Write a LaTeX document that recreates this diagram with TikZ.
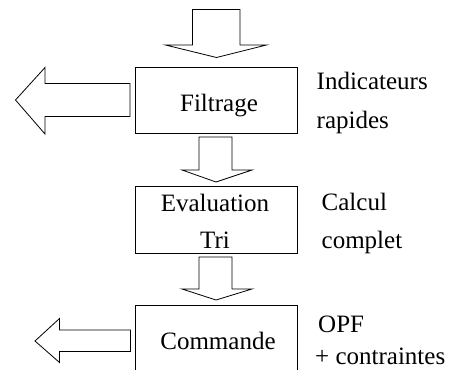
\documentclass[tikz,border=0pt]{standalone}
\usepackage{fontspec}
\setmainfont{Liberation Serif}
\begin{document}
\begin{tikzpicture}[x=1pt,y=-1pt,
  boxstyle/.style={draw=black,line width=0.9pt,fill=white,inner sep=0pt},
  blockarrow/.style={draw=black,line width=0.8pt,fill=white,line join=miter},
  lbl/.style={inner sep=0pt,font=\fontsize{25}{30}\selectfont},
]
\useasboundingbox (0,0) rectangle (451,370);
\clip (0,0) rectangle (451,370);
\fill[white] (0,0) rectangle (451,370);

% boxes
\node[boxstyle,minimum width=162pt,minimum height=65.5pt] (filtrage) at (216,100.25) {};
\node[boxstyle,minimum width=162pt,minimum height=67pt] (evaluation) at (216,219.5) {};
\node[boxstyle,minimum width=162pt,minimum height=74pt] (commande) at (216,342) {};

% texts in boxes
\node[lbl,anchor=base] (tfilt) at (219,111) {Filtrage};
\node[lbl,anchor=base] (teval) at (215,211) {Evaluation};
\node[lbl,anchor=base] (ttri) at (215,248) {Tri};
\node[lbl,anchor=base] (tcmd) at (218,349) {Commande};

% side texts
\node[lbl,anchor=base west] (ind) at (316.5,89) {Indicateurs};
\node[lbl,anchor=base west] (rap) at (316.5,128) {rapides};
\node[lbl,anchor=base west] (calc) at (321.5,210) {Calcul};
\node[lbl,anchor=base west] (comp) at (321.5,248) {complet};
\node[lbl,anchor=base west] (opf) at (318,332) {OPF};
\node[lbl,anchor=base west] (ctr) at (315,364) {+ contraintes};

% downward block arrows
\draw[blockarrow] (192.5,9.5) -- (240,9.5) -- (240,45) -- (266.5,45) -- (216.5,57.5)
  -- (165.5,45) -- (192.5,45) -- cycle;
\draw[blockarrow] (199,137) -- (232,137) -- (232,170) -- (252,170) -- (216,182)
  -- (182,170) -- (199,170) -- cycle;
\draw[blockarrow] (199,257) -- (232,257) -- (232,289) -- (252,289) -- (216,300)
  -- (182,289) -- (199,289) -- cycle;

% leftward block arrows
\draw[blockarrow] (130,83.5) -- (45,83.5) -- (45,67.5) -- (15.5,100) -- (45,134)
  -- (45,116.5) -- (130,116.5) -- cycle;
\draw[blockarrow] (130.5,330) -- (59.5,330) -- (59.5,318.5) -- (35,341) -- (59.5,362.5)
  -- (59.5,351.5) -- (130.5,351.5) -- cycle;
\end{tikzpicture}
\end{document}
